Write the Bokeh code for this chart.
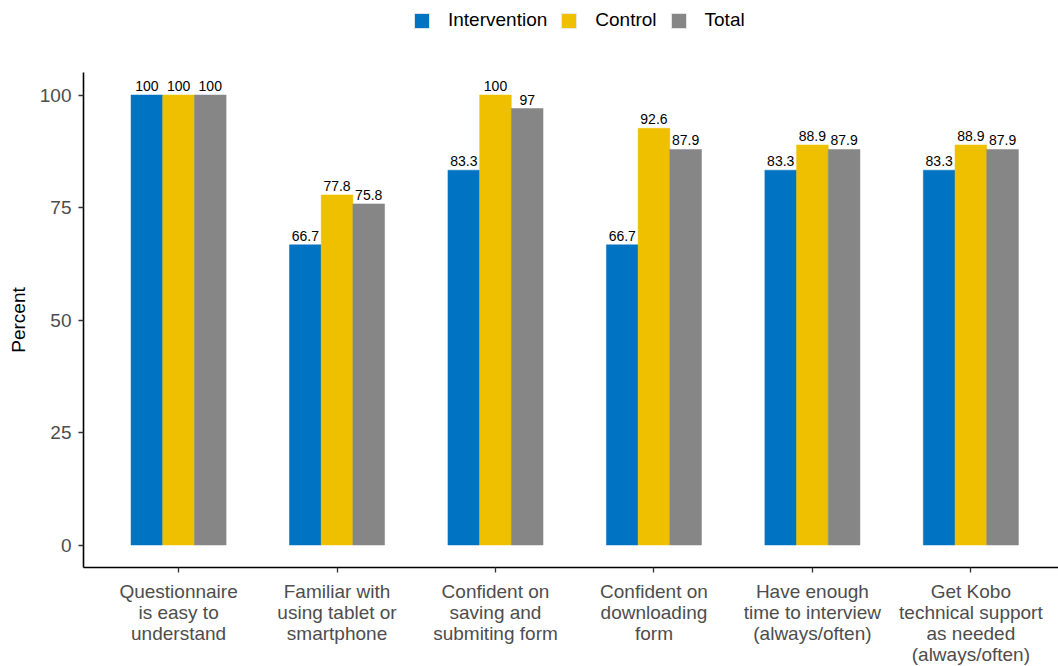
from bokeh.plotting import figure
from bokeh.models import ColumnDataSource, Range1d, FixedTicker, Legend, LegendItem
from bokeh.layouts import column
from bokeh.embed import file_html
from bokeh.resources import INLINE
from bokeh.core.properties import value
from bokeh.transform import dodge

categories = [
    "Questionnaire\nis easy to\nunderstand",
    "Familiar with\nusing tablet or\nsmartphone",
    "Confident on\nsaving and\nsubmiting form",
    "Confident on\ndownloading\nform",
    "Have enough\ntime to interview\n(always/often)",
    "Get Kobo\ntechnical support\nas needed\n(always/often)",
]
groups = ["Intervention", "Control", "Total"]
intervention = [100, 66.7, 83.3, 66.7, 83.3, 83.3]
control = [100, 77.8, 100, 92.6, 88.9, 88.9]
total = [100, 75.8, 97, 87.9, 87.9, 87.9]
colors = ["#0073C2", "#EFC000", "#868686"]
y_ticks = [0, 25, 50, 75, 100]

FONT = "Liberation Sans"
xs = list(range(1, len(categories) + 1))

def fmt(v):
    return f"{v:g}"

data = dict(x=xs)
for g, vals in zip(groups, [intervention, control, total]):
    data[g] = vals
    data[g + "_lbl"] = [fmt(v) for v in vals]
source = ColumnDataSource(data)

# ---- legend strip ----
lf = figure(width=1058, height=72, output_backend="svg", toolbar_location=None,
            x_range=Range1d(0, 1), y_range=Range1d(0, 1),
            x_axis_type=None, y_axis_type=None, min_border=0,
            min_border_left=0, min_border_right=0, min_border_top=0, min_border_bottom=0)
lf.outline_line_color = None
lf.xgrid.grid_line_color = None
lf.ygrid.grid_line_color = None
hidden = ColumnDataSource(dict(x=[-10], top=[-10]))
leg_items = []
for g, c in zip(groups, colors):
    r = lf.vbar(x="x", top="top", width=0.1, source=hidden, fill_color=c,
                line_color="#EBEBEB", line_width=1)
    leg_items.append(LegendItem(label=g, renderers=[r]))
legend = Legend(items=leg_items, orientation="horizontal", location=(329, 41),
                glyph_width=19, glyph_height=19, label_standoff=17, spacing=12,
                padding=0, margin=0, border_line_color=None, background_fill_alpha=0,
                label_text_font=FONT, label_text_font_size="19px", label_text_color="black")
lf.add_layout(legend, "center")

# ---- main chart ----
p = figure(frame_width=975, frame_height=495, output_backend="svg", toolbar_location=None,
           x_range=Range1d(0.4, 6.553), y_range=Range1d(-5, 105),
           min_border_left=83, min_border_right=0, min_border_top=0, min_border_bottom=0)
p.outline_line_color = None
p.xgrid.grid_line_color = None
p.ygrid.grid_line_color = None

offsets = [-0.2, 0.0, 0.2]
for g, c, off in zip(groups, colors, offsets):
    p.vbar(x=dodge("x", off, range=p.x_range), top=g, width=0.2, bottom=0,
           source=source, fill_color=c, line_color=c, line_width=0.5)
    p.text(x=dodge("x", off, range=p.x_range), y=g, text=g + "_lbl", source=source,
           text_align="center", text_baseline="bottom", y_offset=-4,
           text_font=value(FONT), text_font_size="14px", text_color="black")

p.xaxis.ticker = FixedTicker(ticks=xs)
p.xaxis.major_label_overrides = {i: c for i, c in zip(xs, categories)}
p.yaxis.ticker = FixedTicker(ticks=y_ticks)
for ax in [p.xaxis[0], p.yaxis[0]]:
    ax.axis_line_color = "black"
    ax.axis_line_width = 1.6
    ax.major_tick_line_color = "#333333"
    ax.major_tick_line_width = 1.3
    ax.major_tick_in = 0
    ax.major_tick_out = 5
    ax.minor_tick_line_color = None
    ax.major_label_text_font = FONT
    ax.major_label_text_font_size = "19px"
    ax.major_label_text_color = "#4D4D4D"
p.yaxis.major_label_standoff = 7
p.xaxis.major_label_standoff = 8
p.xaxis.major_label_text_line_height = 1.0
p.yaxis.axis_label = "Percent"
p.yaxis.axis_label_text_font = FONT
p.yaxis.axis_label_text_font_size = "19px"
p.yaxis.axis_label_text_font_style = "normal"
p.yaxis.axis_label_text_color = "black"
p.yaxis.axis_label_standoff = 8

layout = column(lf, p, spacing=0)
open("out.html", "w").write(file_html(layout, INLINE))
